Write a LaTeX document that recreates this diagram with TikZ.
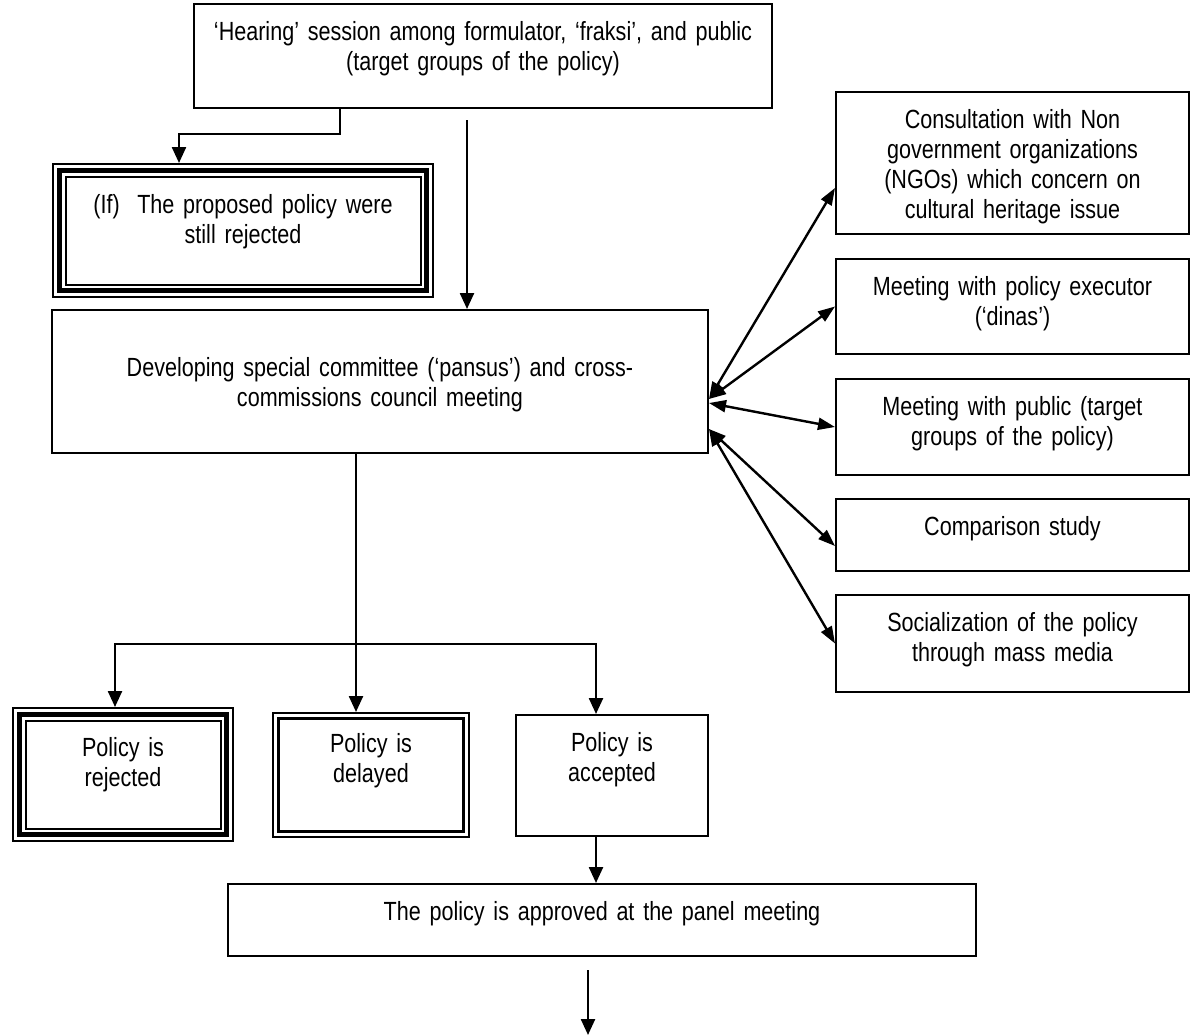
\documentclass[tikz,border=0pt]{standalone}
\usepackage{fontspec}
\setmainfont{Liberation Sans}[FakeStretch=0.82, WordSpace=0.8]
\usetikzlibrary{arrows.meta,positioning}

\begin{document}
\begin{tikzpicture}[
    x=1pt, y=-1pt,
    font=\fontsize{26.3}{30}\selectfont,
    box/.style={draw, line width=2pt, inner sep=0pt, align=center, anchor=north west, text height=36pt},
    triplebox/.style={draw, line width=5pt, inner sep=0pt, outer sep=7.25pt, align=center, anchor=north west,
        preaction={draw, black, line width=14.5pt}, preaction={draw, white, line width=10.5pt}},
    doublebox/.style={draw, line width=2.3pt, double, double distance=3pt, inner sep=0pt, outer sep=3.8pt, align=center, anchor=north west},
    arrow/.style={-{Triangle[length=16pt, width=14pt]}, line width=2.4pt},
    twoway/.style={{Triangle[length=17pt, width=12pt]}-{Triangle[length=17pt, width=12pt]}, line width=2.4pt}
]
\useasboundingbox (0,0) rectangle (1192,1034);

% === HEARING AND FIRST REJECTION (top left) ===
\node[box, text width=578pt, text depth=68pt] (hearing) at (193,3) {`Hearing' session among formulator, `fraksi', and public\\(target groups of the policy)};
\node[triplebox, text width=367.5pt, text height=43pt, text depth=77.5pt] (stillrej) at (52,163) {(If)\ \ The proposed policy were\\still rejected};

% === COMMITTEE MEETING (center) ===
\node[box, text width=656pt, text height=66pt, text depth=77pt] (develop) at (51,309) {Developing special committee (`pansus') and cross-\\commissions council meeting};

% === CONSULTATIONS (right) ===
\node[box, text width=353pt, text depth=106pt] (ngo) at (835,91) {Consultation with Non\\government organizations\\(NGOs) which concern on\\cultural heritage issue};
\node[box, text width=353pt, text depth=59pt] (dinas) at (835,258) {Meeting with policy executor\\(`dinas')};
\node[box, text width=353pt, text depth=60pt] (public) at (835,378) {Meeting with public (target\\groups of the policy)};
\node[box, text width=353pt, text depth=36pt] (compare) at (835,498) {Comparison study};
\node[box, text width=353pt, text depth=61pt] (social) at (835,594) {Socialization of the policy\\through mass media};

% === OUTCOMES (bottom) ===
\node[triplebox, text width=207.5pt, text height=42.5pt, text depth=78pt] (rejected) at (12,707) {Policy is\\rejected};
\node[doublebox, text width=190.4pt, text height=37pt, text depth=81.4pt] (delayed) at (272,712) {Policy is\\delayed};
\node[box, text width=192pt, text depth=85pt] (accepted) at (515,714) {Policy is\\accepted};
\node[box, text width=748pt, text depth=36pt] (panel) at (227,883) {The policy is approved at the panel meeting};

% Connections
\draw[arrow] ([xshift=147pt]hearing.south west) -- ++(0,25) -| ([xshift=127pt]stillrej.north west);
\draw[arrow] ([xshift=274pt,yshift=-11pt]hearing.south west) coordinate (drop) -- (drop |- develop.north);

\coordinate (split) at ([xshift=305pt,yshift=-190pt]develop.south west);
\draw[arrow] (split |- develop.south) -- (split |- delayed.north);
\draw[arrow] (split) -| ([xshift=103pt]rejected.north west);
\draw[arrow] (split) -| ([xshift=81pt]accepted.north west);

\draw[arrow] ([xshift=81pt]accepted.south west) coordinate (acc) -- (acc |- panel.north);
\draw[arrow] ([xshift=361pt,yshift=-13pt]panel.south west) -- ++(0,65);

% Two-way links to the consultations
\draw[twoway] ([yshift=-17.5pt]develop.east) -- ([yshift=-25pt]ngo.west);
\draw[twoway] ([yshift=-17.5pt]develop.east) -- (dinas.west);
\draw[twoway] ([yshift=-21.5pt]develop.east) -- (public.west);
\draw[twoway] ([yshift=-47.5pt]develop.east) -- ([yshift=-11pt]compare.west);
\draw[twoway] ([yshift=-47.5pt]develop.east) -- (social.west);

\end{tikzpicture}
\end{document}
